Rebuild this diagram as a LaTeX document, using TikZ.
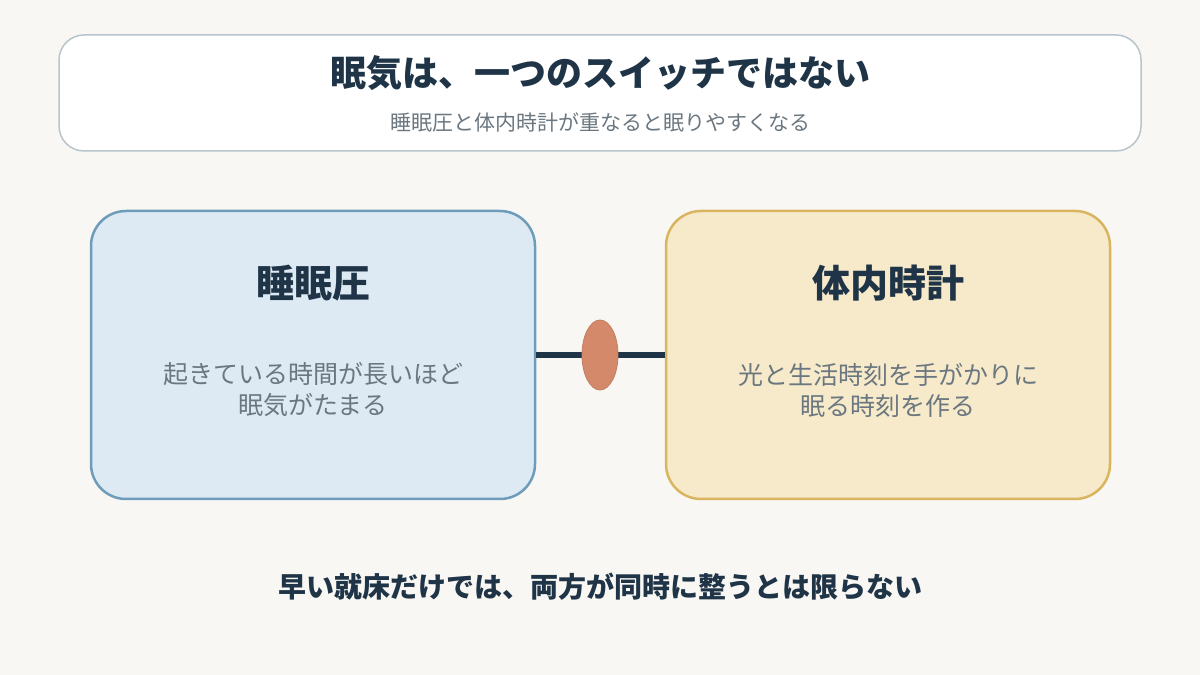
\documentclass[tikz,border=0pt]{standalone}
\usepackage{fontspec}
\setmainfont{Noto Sans CJK JP}
\usetikzlibrary{positioning,shapes.geometric}
\definecolor{bgcol}{HTML}{F8F7F3}
\definecolor{inkcol}{HTML}{1F3447}
\definecolor{graycol}{HTML}{6B7780}
\definecolor{pressfill}{HTML}{DDEAF3}
\definecolor{pressline}{HTML}{6E9CBB}
\definecolor{clockfill}{HTML}{F6EACA}
\definecolor{clockline}{HTML}{D9B560}
\definecolor{knotcol}{HTML}{D4896A}
\definecolor{panelline}{HTML}{B8C4CC}
\tikzset{
 box/.style={draw, line width=2.5pt, rounded corners=35pt, minimum width=444pt, minimum height=288pt},
 head/.style={font=\fontsize{38}{42}\selectfont\bfseries, text=inkcol},
 body/.style={font=\fontsize{25}{31}\selectfont, text=graycol, align=center}
}
\begin{document}
\begin{tikzpicture}[x=1pt,y=1pt]
\fill[bgcol] (0,0) rectangle (1200,675);
\useasboundingbox (0,0) rectangle (1200,675);

% title panel
\draw[fill=white, draw=panelline, line width=1.5pt, rounded corners=25pt] (59,524) rectangle (1141,640);
\node[font=\fontsize{36}{40}\selectfont\bfseries, text=inkcol] (title) at (600,602) {眠気は、一つのスイッチではない};
\node[font=\fontsize{21}{24}\selectfont, text=graycol] (sub) at (600,553) {睡眠圧と体内時計が重なると眠りやすくなる};

% two boxes
\node[box, fill=pressfill, draw=pressline] (press) at (313,320) {};
\node[box, fill=clockfill, draw=clockline] (clock) at (888,320) {};
\node[head] (presshead) at (313,392) {睡眠圧};
\node[body] (presstext) at (313,285) {起きている時間が長いほど\\眠気がたまる};
\node[head] (clockhead) at (888,392) {体内時計};
\node[body] (clocktext) at (888,285) {光と生活時刻を手がかりに\\眠る時刻を作る};

% link
\draw[inkcol, line width=6pt] (press.east) -- (clock.west);
\node[ellipse, fill=knotcol, draw=knotcol!92!black, line width=0.8pt, minimum width=36pt, minimum height=70pt, inner sep=0pt] (knot) at (600,320) {};

\node[font=\fontsize{28}{31}\selectfont\bfseries, text=inkcol] (note) at (600,88) {早い就床だけでは、両方が同時に整うとは限らない};
\end{tikzpicture}
\end{document}
